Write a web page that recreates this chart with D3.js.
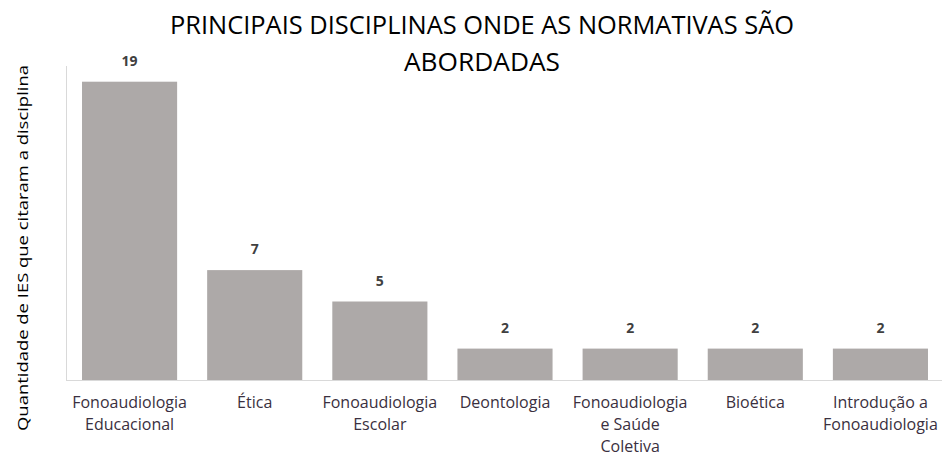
<!DOCTYPE html>
<html>
<head>
<meta charset="utf-8">
<script src="https://cdn.jsdelivr.net/npm/d3@7"></script>
<style>
  body { margin: 0; background: #fff; }
  svg { display: block; }
</style>
</head>
<body>
<svg id="chart" width="942" height="458"></svg>
<script>
// chart data
const categories = [
    ['Fonoaudiologia', 'Educacional'],
    ['Ética'],
    ['Fonoaudiologia', 'Escolar'],
    ['Deontologia'],
    ['Fonoaudiologia', 'e Saúde', 'Coletiva'],
    ['Bioética'],
    ['Introdução a', 'Fonoaudiologia']
];
const values = [19, 7, 5, 2, 2, 2, 2];
const titleLines = ['PRINCIPAIS DISCIPLINAS ONDE AS NORMATIVAS SÃO', 'ABORDADAS'];
const yTitle = 'Quantidade de IES que citaram  a disciplina';

const font = '"Open Sans", sans-serif';
const svg = d3.select('#chart');

const x = d3.scaleBand()
    .domain(d3.range(values.length))
    .range([67, 943])
    .paddingInner(0.24)
    .paddingOuter(0.12);

const y = d3.scaleLinear()
    .domain([0, 20])
    .range([380, 66]);

// bars
svg.append('g')
    .selectAll('rect')
    .data(values)
    .join('rect')
        .attr('x', (d, i) => x(i))
        .attr('y', d => y(d))
        .attr('width', x.bandwidth())
        .attr('height', d => y(0) - y(d))
        .attr('fill', '#ada9a8');

// axis lines
svg.append('line')
    .attr('x1', 66.5).attr('x2', 66.5)
    .attr('y1', y.range()[1]).attr('y2', y(0))
    .attr('stroke', '#d9d9d9');
svg.append('line')
    .attr('x1', 66).attr('x2', 942)
    .attr('y1', y(0) + 0.5).attr('y2', y(0) + 0.5)
    .attr('stroke', '#d9d9d9');

// value labels
svg.append('g')
    .selectAll('text')
    .data(values)
    .join('text')
        .attr('x', (d, i) => x(i) + x.bandwidth() / 2)
        .attr('y', d => y(d) - 16)
        .attr('text-anchor', 'middle')
        .style('font-family', font)
        .style('font-size', '14px')
        .style('font-weight', 'bold')
        .style('fill', '#404040')
        .text(d => d);

// category labels
const cat = svg.append('g')
    .selectAll('text')
    .data(categories)
    .join('text')
        .attr('text-anchor', 'middle')
        .style('font-family', font)
        .style('font-size', '16px')
        .style('fill', '#3a3040');
cat.each(function(lines, i) {
    d3.select(this).selectAll('tspan')
        .data(lines)
        .join('tspan')
            .attr('x', x(i) + x.bandwidth() / 2)
            .attr('y', (l, j) => 408 + j * 22)
            .text(l => l);
});

// title
svg.append('g')
    .selectAll('text')
    .data(titleLines)
    .join('text')
        .attr('x', 482)
        .attr('y', (d, i) => 34 + i * 37)
        .attr('text-anchor', 'middle')
        .attr('textLength', (d, i) => i === 0 ? 624 : 156)
        .attr('lengthAdjust', 'spacingAndGlyphs')
        .style('font-family', font)
        .style('font-size', '25px')
        .style('fill', '#000')
        .text(d => d);

// y axis title
svg.append('text')
    .attr('transform', 'translate(28,248) rotate(-90)')
    .attr('text-anchor', 'middle')
    .attr('textLength', 366)
    .attr('lengthAdjust', 'spacingAndGlyphs')
    .style('font-family', font)
    .style('font-size', '15px')
    .style('fill', '#000')
    .text(yTitle);
</script>
</body>
</html>
